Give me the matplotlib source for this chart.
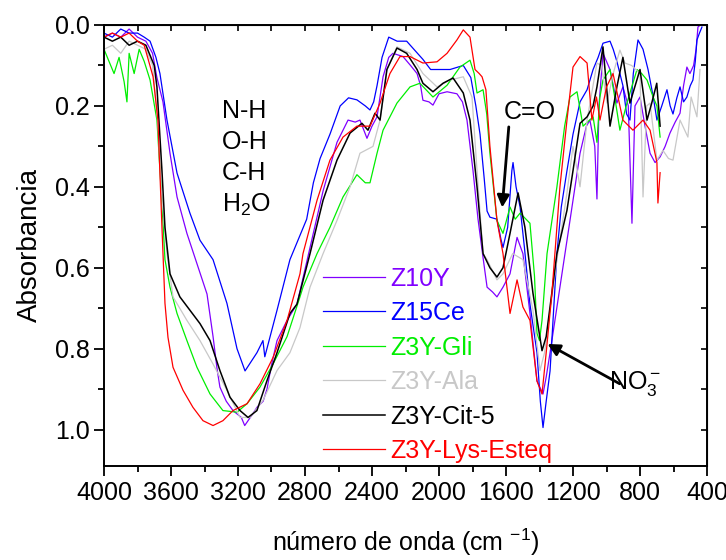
import numpy as np
import matplotlib
matplotlib.use("Agg")
import matplotlib.pyplot as plt
from matplotlib.ticker import MultipleLocator

plt.rcParams['font.family'] = ['Liberation Sans', 'DejaVu Sans']
plt.rcParams['mathtext.fontset'] = 'custom'
plt.rcParams['mathtext.rm'] = 'Liberation Sans'
plt.rcParams['mathtext.it'] = 'Liberation Sans'

# ---- data (wavenumber cm-1, absorbance) ----
wn_z10y = [4000, 3950, 3900, 3850, 3800, 3750, 3710, 3684, 3648, 3606, 3564, 3505, 3445, 3385, 3349, 3325,
           3308, 3270, 3230, 3180, 3160, 3110, 3087, 3050, 3027, 3000, 2967, 2907, 2848, 2770, 2692, 2609,
           2543, 2500, 2472, 2430, 2400, 2370, 2334, 2300, 2275, 2215, 2170, 2131, 2110, 2096, 2060, 2036,
           2000, 1952, 1893, 1860, 1833, 1797, 1767, 1737, 1713, 1680, 1654, 1618, 1576, 1534, 1499, 1457,
           1415, 1379, 1360, 1337, 1278, 1218, 1158, 1120, 1099, 1070, 1057, 1045, 1021, 1000, 979, 938,
           902, 870, 848, 830, 800, 770, 740, 710, 680, 650, 621, 590, 561, 540, 520, 502, 480, 465, 454, 440]
ab_z10y = [0.03, 0.02, 0.03, 0.01, 0.03, 0.04, 0.07, 0.13, 0.19, 0.317, 0.425, 0.515, 0.59, 0.665, 0.77, 0.85,
           0.895, 0.93, 0.953, 0.97, 0.99, 0.96, 0.945, 0.93, 0.90, 0.84, 0.78, 0.73, 0.69, 0.55, 0.41, 0.29,
           0.235, 0.24, 0.235, 0.28, 0.25, 0.227, 0.128, 0.08, 0.07, 0.078, 0.10, 0.12, 0.15, 0.186, 0.19, 0.198,
           0.17, 0.165, 0.17, 0.19, 0.235, 0.36, 0.48, 0.575, 0.648, 0.66, 0.672, 0.648, 0.615, 0.525, 0.565, 0.713,
           0.88, 0.912, 0.87, 0.81, 0.648, 0.483, 0.317, 0.25, 0.235, 0.30, 0.43, 0.20, 0.07, 0.09, 0.11, 0.193,
           0.153, 0.20, 0.49, 0.20, 0.178, 0.25, 0.317, 0.34, 0.326, 0.30, 0.267, 0.24, 0.218, 0.15, 0.104, 0.12, 0.10, 0.06, 0.005, 0.0]

wn_z15ce = [4000, 3950, 3900, 3850, 3800, 3760, 3725, 3690, 3666, 3624, 3564, 3487, 3427, 3349, 3266, 3206,
            3158, 3087, 3051, 3040, 2967, 2890, 2830, 2790, 2750, 2710, 2651, 2590, 2540, 2490, 2440, 2412,
            2390, 2370, 2340, 2300, 2250, 2193, 2150, 2096, 2050, 2012, 1934, 1855, 1810, 1780, 1755, 1730,
            1713, 1696, 1654, 1630, 1618, 1590, 1565, 1558, 1540, 1516, 1490, 1457, 1415, 1395, 1379, 1360,
            1337, 1315, 1296, 1270, 1236, 1200, 1158, 1116, 1080, 1050, 1021, 979, 960, 938, 902, 880, 860,
            840, 812, 782, 752, 720, 699, 670, 639, 620, 603, 580, 561, 540, 520, 500, 484, 470, 460, 445, 430]
ab_z15ce = [0.02, 0.03, 0.01, 0.02, 0.02, 0.03, 0.04, 0.08, 0.12, 0.235, 0.366, 0.465, 0.532, 0.58, 0.688, 0.80,
            0.855, 0.81, 0.78, 0.82, 0.705, 0.58, 0.52, 0.48, 0.39, 0.33, 0.27, 0.20, 0.18, 0.185, 0.20, 0.21,
            0.19, 0.15, 0.08, 0.03, 0.04, 0.04, 0.06, 0.085, 0.11, 0.11, 0.11, 0.10, 0.13, 0.20, 0.27, 0.38,
            0.46, 0.475, 0.48, 0.53, 0.55, 0.50, 0.36, 0.34, 0.40, 0.45, 0.55, 0.69, 0.81, 0.93, 0.995, 0.93,
            0.855, 0.70, 0.565, 0.45, 0.36, 0.27, 0.19, 0.16, 0.11, 0.08, 0.045, 0.04, 0.06, 0.09, 0.15, 0.22, 0.235,
            0.12, 0.037, 0.06, 0.11, 0.18, 0.235, 0.20, 0.16, 0.20, 0.22, 0.18, 0.153, 0.19, 0.178, 0.15, 0.136, 0.09, 0.037, 0.02, 0.005]

wn_gli = [4000, 3970, 3940, 3910, 3880, 3863, 3850, 3820, 3790, 3760, 3725, 3684, 3654, 3636, 3606, 3564,
          3505, 3445, 3367, 3290, 3206, 3146, 3069, 2991, 2907, 2830, 2812, 2728, 2651, 2573, 2490, 2440,
          2412, 2370, 2334, 2251, 2173, 2114, 2036, 1952, 1875, 1815, 1790, 1773, 1737, 1715, 1696, 1654,
          1618, 1576, 1545, 1516, 1457, 1430, 1415, 1400, 1385, 1355, 1296, 1250, 1218, 1176, 1140, 1080,
          1057, 1040, 1021, 979, 950, 920, 878, 818, 790, 758, 720, 699, 680]
ab_gli = [0.06, 0.09, 0.12, 0.08, 0.14, 0.19, 0.07, 0.12, 0.06, 0.09, 0.136, 0.235, 0.44, 0.58, 0.648, 0.713,
          0.78, 0.846, 0.912, 0.953, 0.957, 0.936, 0.895, 0.838, 0.77, 0.672, 0.648, 0.565, 0.50, 0.425, 0.37, 0.39,
          0.39, 0.317, 0.26, 0.193, 0.153, 0.144, 0.178, 0.149, 0.104, 0.087, 0.12, 0.168, 0.16, 0.22, 0.317, 0.483,
          0.515, 0.45, 0.48, 0.465, 0.49, 0.62, 0.762, 0.78, 0.73, 0.565, 0.40, 0.25, 0.178, 0.165, 0.25, 0.227,
          0.29, 0.18, 0.136, 0.11, 0.18, 0.26, 0.193, 0.11, 0.12, 0.136, 0.18, 0.20, 0.277]

wn_ala = [4000, 3950, 3900, 3850, 3800, 3750, 3710, 3680, 3660, 3624, 3588, 3505, 3427, 3349, 3266, 3188,
          3128, 3051, 2967, 2890, 2830, 2770, 2692, 2609, 2531, 2472, 2394, 2352, 2311, 2251, 2173, 2096,
          2012, 1934, 1855, 1803, 1773, 1737, 1713, 1654, 1618, 1560, 1499, 1439, 1397, 1370, 1296, 1236,
          1200, 1158, 1116, 1057, 1030, 997, 960, 920, 890, 850, 800, 782, 760, 740, 699, 663, 630, 603,
          561, 514, 495, 460, 442]
ab_ala = [0.06, 0.05, 0.07, 0.04, 0.05, 0.06, 0.10, 0.235, 0.40, 0.565, 0.672, 0.73, 0.78, 0.838, 0.903, 0.97,
          0.97, 0.928, 0.854, 0.81, 0.748, 0.648, 0.565, 0.483, 0.40, 0.317, 0.30, 0.235, 0.11, 0.054, 0.07, 0.12,
          0.153, 0.136, 0.128, 0.178, 0.36, 0.565, 0.58, 0.63, 0.615, 0.565, 0.58, 0.705, 0.854, 0.81, 0.58, 0.415,
          0.30, 0.40, 0.235, 0.094, 0.10, 0.193, 0.12, 0.062, 0.094, 0.10, 0.12, 0.425, 0.20, 0.193, 0.334, 0.31, 0.33, 0.334,
          0.235, 0.277, 0.178, 0.227, 0.11]

wn_cit = [4000, 3950, 3900, 3850, 3800, 3750, 3700, 3684, 3654, 3636, 3606, 3547, 3487, 3427, 3367, 3308,
          3248, 3188, 3140, 3087, 3027, 2967, 2890, 2848, 2770, 2692, 2609, 2531, 2460, 2424, 2382, 2352,
          2311, 2251, 2193, 2131, 2096, 2036, 1976, 1916, 1855, 1815, 1773, 1737, 1696, 1654, 1618, 1576,
          1528, 1487, 1439, 1385, 1360, 1296, 1236, 1200, 1158, 1116, 1080, 1057, 1021, 979, 938, 902,
          860, 800, 758, 730, 700, 680]
ab_cit = [0.03, 0.04, 0.03, 0.05, 0.04, 0.05, 0.10, 0.153, 0.36, 0.50, 0.615, 0.672, 0.705, 0.738, 0.78, 0.854,
          0.92, 0.953, 0.97, 0.953, 0.879, 0.81, 0.713, 0.69, 0.565, 0.433, 0.334, 0.267, 0.243, 0.26, 0.218, 0.235,
          0.11, 0.057, 0.07, 0.11, 0.144, 0.165, 0.144, 0.131, 0.168, 0.235, 0.40, 0.565, 0.60, 0.623, 0.60, 0.515,
          0.415, 0.50, 0.663, 0.805, 0.77, 0.565, 0.458, 0.36, 0.243, 0.227, 0.20, 0.153, 0.054, 0.25, 0.153, 0.08,
          0.193, 0.11, 0.235, 0.193, 0.144, 0.25]

wn_lys = [4000, 3950, 3900, 3850, 3800, 3760, 3707, 3678, 3654, 3636, 3618, 3588, 3528, 3469, 3409, 3349,
          3290, 3230, 3146, 3069, 2991, 2907, 2830, 2812, 2728, 2651, 2573, 2490, 2412, 2352, 2293, 2233,
          2173, 2096, 2012, 1952, 1893, 1855, 1815, 1785, 1760, 1743, 1720, 1696, 1654, 1618, 1576, 1534,
          1499, 1457, 1415, 1385, 1360, 1326, 1278, 1236, 1200, 1158, 1116, 1087, 1060, 1039, 1000, 961,
          902, 842, 782, 740, 699, 693, 680]
ab_lys = [0.03, 0.02, 0.03, 0.02, 0.04, 0.05, 0.128, 0.235, 0.50, 0.688, 0.772, 0.846, 0.903, 0.945, 0.978, 0.99,
          0.978, 0.953, 0.936, 0.887, 0.822, 0.73, 0.615, 0.565, 0.433, 0.334, 0.277, 0.25, 0.25, 0.193, 0.12, 0.078,
          0.078, 0.094, 0.091, 0.07, 0.037, 0.012, 0.03, 0.11, 0.12, 0.128, 0.16, 0.30, 0.483, 0.565, 0.713, 0.63,
          0.697, 0.73, 0.88, 0.912, 0.81, 0.663, 0.40, 0.235, 0.104, 0.078, 0.094, 0.235, 0.178, 0.235, 0.153, 0.12,
          0.235, 0.26, 0.235, 0.26, 0.34, 0.44, 0.365]

series = [
    ("Z10Y", wn_z10y, ab_z10y, "#8000ff", 0.9),
    ("Z15Ce", wn_z15ce, ab_z15ce, "#0000ff", 0.9),
    ("Z3Y-Gli", wn_gli, ab_gli, "#00ee00", 0.9),
    ("Z3Y-Ala", wn_ala, ab_ala, "#c8c8c8", 0.9),
    ("Z3Y-Cit-5", wn_cit, ab_cit, "#000000", 1.1),
    ("Z3Y-Lys-Esteq", wn_lys, ab_lys, "#ff0000", 0.9),
]

fig = plt.figure(figsize=(7.26, 5.6), dpi=100)
ax = fig.add_axes([104/726, 1-466/560, 603/726, 441/560])

for name, x, y, c, lw in series:
    ax.plot(x, y, color=c, lw=lw, label=name)

ax.set_xlim(4000, 400)
ax.set_ylim(1.09, 0.0)
ax.xaxis.set_major_locator(MultipleLocator(400))
ax.xaxis.set_minor_locator(MultipleLocator(200))
ax.yaxis.set_major_locator(MultipleLocator(0.2))
ax.yaxis.set_minor_locator(MultipleLocator(0.1))
ax.yaxis.set_major_formatter(plt.FormatStrFormatter('%.1f'))
ax.tick_params(which='major', direction='out', length=7, width=1.3, labelsize=18)
ax.tick_params(which='minor', direction='out', length=4, width=1.3)
for sp in ax.spines.values():
    sp.set_linewidth(1.4)

# inward ticks on top/right
top = ax.secondary_xaxis('top')
top.xaxis.set_major_locator(MultipleLocator(200))
top.tick_params(direction='in', length=4, width=1.2, labeltop=False)
right = ax.secondary_yaxis('right')
right.yaxis.set_major_locator(MultipleLocator(0.1))
right.tick_params(direction='in', length=4, width=1.2, labelright=False)

ax.set_ylabel("Absorbancia", fontsize=20, labelpad=8)
ax.set_xlabel("número de onda (cm $^{-1}$)", fontsize=18, labelpad=16)

ax.text(3296, 0.33, "N-H\nO-H\nC-H\nH$_2$O", fontsize=18, ha='left', va='center', linespacing=1.35)

ax.text(1457, 0.215, "C=O", fontsize=18, ha='center', va='center')
ax.annotate('', xy=(1624, 0.458), xytext=(1582, 0.245),
            arrowprops=dict(arrowstyle='-|>', lw=2, color='k', mutation_scale=18))
ax.text(830, 0.886, "NO$_3^-$", fontsize=18, ha='center', va='center')
ax.annotate('', xy=(1367, 0.785), xytext=(907, 0.89),
            arrowprops=dict(arrowstyle='-|>', lw=2, color='k', mutation_scale=18))

ax.legend(loc='upper left', bbox_to_anchor=(0.363, 0.452), frameon=False, fontsize=18,
          handlelength=2.5, handletextpad=0.2, labelspacing=0.42, borderpad=0, borderaxespad=0,
          labelcolor='linecolor')

fig.savefig("out.png", dpi=100)
